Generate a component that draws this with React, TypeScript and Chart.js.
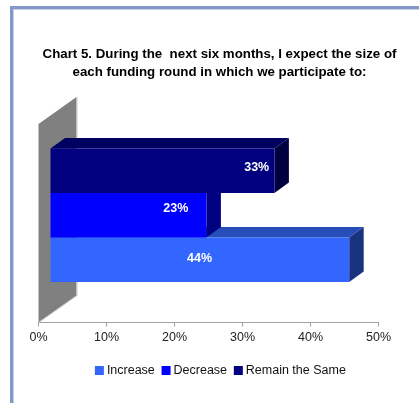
import React, { useEffect, useRef } from "react";
import { Chart, registerables } from "chart.js";

Chart.register(...registerables);

const FONT = "'Liberation Sans', Arial, sans-serif";

// One question, three answers, listed from the back of the 3D row to the front.
const categories = ["Funding round size"];
const seriesNames = ["Remain the Same", "Decrease", "Increase"];
const seriesValues = [33, 23, 44];
const frontColors = ["#000080", "#0000ff", "#3366ff"];
const topColors = ["#000060", "#0000c0", "#264db8"];
const sideColors = ["#000040", "#000080", "#1a337f"];
const xTicks = [0, 10, 20, 30, 40, 50];
const titleLines = [
  "Chart 5. During the  next six months, I expect the size of",
  "each funding round in which we participate to:",
];

// Projection of the 3D box, in pixels.
const WALL_DX = 38;
const WALL_DY = 27;
const BAR_SHIFT_X = 11.5;
const BAR_SHIFT_Y = -8;
const BAR_DX = 14.5;
const BAR_DY = 10.5;

// Title and legend sit centred on the page rather than on the plot.
const TITLE_SHIFT = 11;
const TITLE_SPREAD = 40;
const LEGEND_SHIFT = 13.5;

// Where each percentage label sits along its bar, in axis units.
const labelCentres = [30.4, 18.5, 22];
const labelCentreY = [19, 16, 20.5];

const poly = (ctx: CanvasRenderingContext2D, pts: number[][], fill: string) => {
  ctx.fillStyle = fill;
  ctx.beginPath();
  pts.forEach(([x, y], i) => (i ? ctx.lineTo(x, y) : ctx.moveTo(x, y)));
  ctx.closePath();
  ctx.fill();
};

const box3d = {
  id: "box3d",
  afterLayout(chart: any) {
    const { titleBlock: title, legend } = chart;
    // The title's box width also caps its text width, so it is widened as well as moved.
    title.left += TITLE_SHIFT - TITLE_SPREAD;
    title.right += TITLE_SHIFT + TITLE_SPREAD;
    legend.left += LEGEND_SHIFT;
    legend.right += LEGEND_SHIFT;
  },
  beforeDatasetsDraw(chart: any) {
    const { ctx, chartArea: a } = chart;
    ctx.save();
    // Left wall of the box, with its pale far edge.
    poly(
      ctx,
      [
        [a.left, a.top],
        [a.left + WALL_DX, a.top - WALL_DY],
        [a.left + WALL_DX, a.bottom - WALL_DY],
        [a.left, a.bottom],
      ],
      "#808080",
    );
    ctx.strokeStyle = "#c4c4c4";
    ctx.lineWidth = 1;
    ctx.beginPath();
    ctx.moveTo(a.left + WALL_DX + 0.5, a.top - WALL_DY);
    ctx.lineTo(a.left + WALL_DX + 0.5, a.bottom - WALL_DY);
    ctx.lineTo(a.left, a.bottom);
    ctx.stroke();

    // Top and end faces, nearest bar first so the end of the bar behind stays visible.
    ctx.translate(BAR_SHIFT_X, BAR_SHIFT_Y);
    for (let i = seriesValues.length - 1; i >= 0; i--) {
      const bar = chart.getDatasetMeta(i).data[0];
      const t = bar.y - bar.height / 2;
      const b = bar.y + bar.height / 2;
      const l = bar.base;
      const r = bar.x;
      poly(
        ctx,
        [
          [l, t],
          [r, t],
          [r + BAR_DX, t - BAR_DY],
          [l + BAR_DX, t - BAR_DY],
        ],
        topColors[i],
      );
      poly(
        ctx,
        [
          [r, t],
          [r + BAR_DX, t - BAR_DY],
          [r + BAR_DX, b - BAR_DY],
          [r, b],
        ],
        sideColors[i],
      );
    }
    ctx.restore();
    // Front faces are drawn by the bar controller from the shifted origin.
    ctx.save();
    ctx.translate(BAR_SHIFT_X, BAR_SHIFT_Y);
  },
  afterDatasetsDraw(chart: any) {
    const { ctx, scales } = chart;
    ctx.restore();
    ctx.save();
    ctx.font = `bold 12.5px ${FONT}`;
    ctx.fillStyle = "#ffffff";
    ctx.textAlign = "center";
    ctx.textBaseline = "middle";
    seriesValues.forEach((v, i) => {
      const bar = chart.getDatasetMeta(i).data[0];
      const x = scales.x.getPixelForValue(labelCentres[i]) + BAR_SHIFT_X;
      const y = bar.y - bar.height / 2 + BAR_SHIFT_Y + labelCentreY[i];
      ctx.fillText(`${v}%`, x, y);
    });
    ctx.restore();
  },
};

export default function App() {
  const ref = useRef<HTMLCanvasElement>(null);

  useEffect(() => {
    const chart = new Chart(ref.current!, {
      type: "bar",
      data: {
        labels: categories,
        datasets: seriesNames.map((name, i) => ({
          label: name,
          data: [seriesValues[i]],
          backgroundColor: frontColors[i],
          borderWidth: 0,
          categoryPercentage: 133 / 197.5,
          barPercentage: 1,
        })),
      },
      plugins: [box3d],
      options: {
        indexAxis: "y",
        animation: false,
        responsive: false,
        layout: { padding: { top: 46, left: 38.5, right: 40.5, bottom: 16.25 } },
        scales: {
          x: {
            min: 0,
            max: 50,
            afterBuildTicks: (axis: any) => {
              axis.ticks = xTicks.map((value) => ({ value }));
            },
            afterFit: (axis: any) => {
              axis.height += 5.75;
            },
            grid: {
              drawOnChartArea: false,
              drawTicks: true,
              tickLength: 4,
              color: "#a0a0a0",
            },
            border: { color: "#a0a0a0", width: 1 },
            ticks: {
              callback: (v: any) => `${v}%`,
              color: "#222222",
              font: { family: FONT, size: 12.5 },
              maxRotation: 0,
              padding: 3.5,
            },
          },
          y: { display: false },
        },
        plugins: {
          tooltip: { enabled: false },
          title: {
            display: true,
            text: titleLines,
            color: "#000000",
            font: { family: FONT, size: 13.3, weight: "bold", lineHeight: 1.32 },
            padding: { top: 0, bottom: 43 },
          },
          legend: {
            position: "bottom",
            reverse: true,
            labels: {
              boxWidth: 2.5,
              boxHeight: 2.5,
              padding: 10,
              color: "#111111",
              font: { family: FONT, size: 12.5 },
              // A thick outline in the fill colour gives a 9px swatch close to its text.
              generateLabels: (c: any) =>
                Chart.defaults.plugins.legend.labels.generateLabels(c).map((item: any) => ({
                  ...item,
                  lineWidth: 6.5,
                  strokeStyle: item.fillStyle,
                })),
            },
          },
        },
      },
    } as any);
    return () => chart.destroy();
  }, []);

  return (
    <div style={{ position: "absolute", left: 0, top: 0, width: 419, height: 403, background: "#fff" }}>
      <canvas ref={ref} width={419} height={403} style={{ display: "block" }} />
      <div
        style={{
          position: "absolute",
          left: 10,
          top: 6,
          width: 409,
          height: 397,
          boxSizing: "border-box",
          borderTop: "3px solid #8497c8",
          borderLeft: "3px solid #8497c8",
          boxShadow: "inset 1px 1px 0 #c5cfe8",
          pointerEvents: "none",
        }}
      />
    </div>
  );
}
